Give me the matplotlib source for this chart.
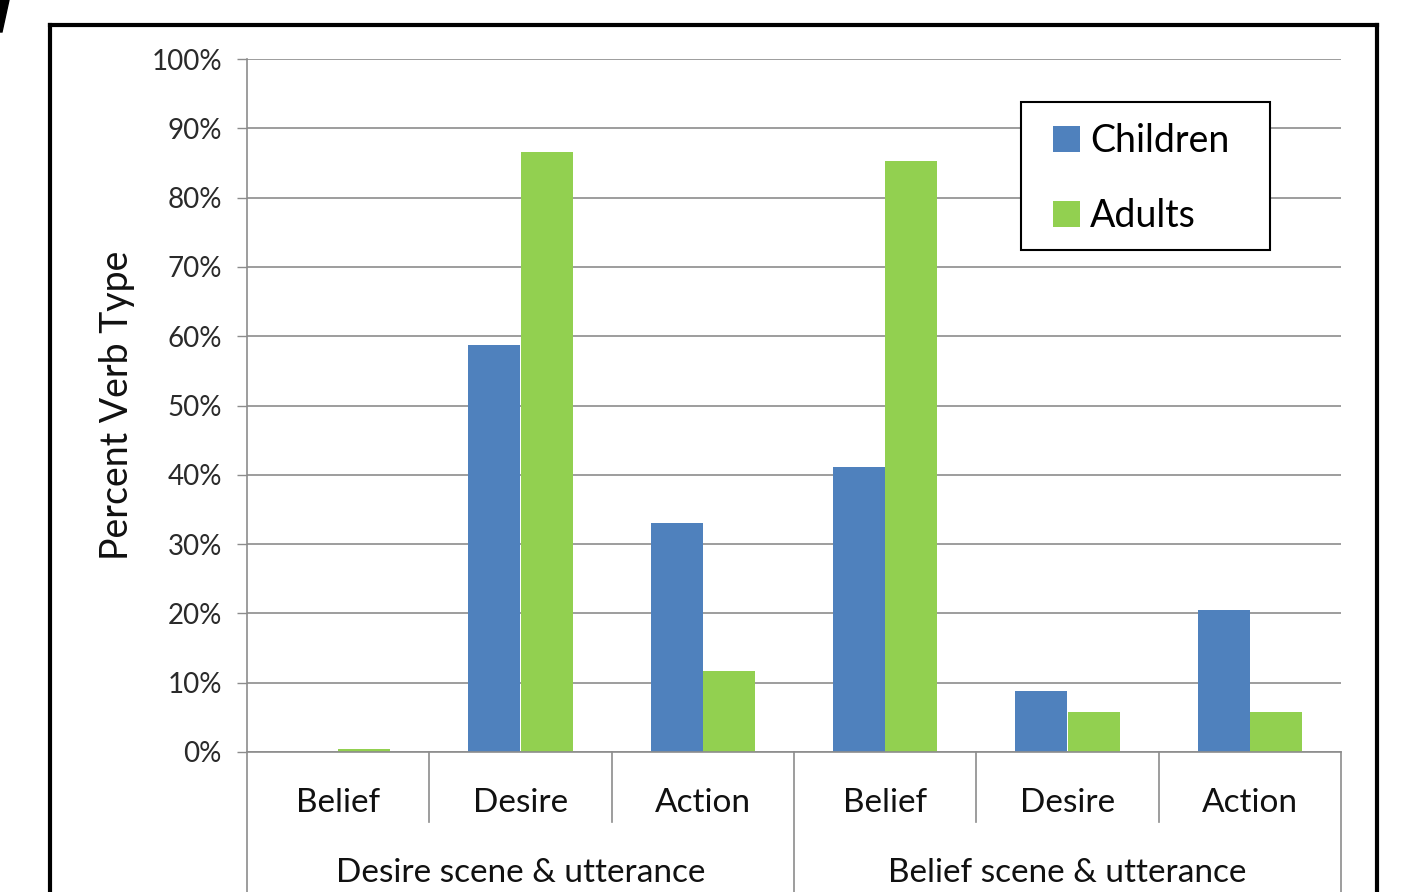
import numpy as np
import matplotlib.pyplot as plt
from matplotlib.lines import Line2D
from matplotlib.patches import Polygon, Rectangle

plt.rcParams['font.family'] = ['Lato', 'DejaVu Sans']

verbs = ['Belief', 'Desire', 'Action', 'Belief', 'Desire', 'Action']
groups = ['Desire scene & utterance', 'Belief scene & utterance']
children = [0.0, 58.7, 33.0, 41.1, 8.8, 20.5]
adults = [0.5, 86.6, 11.7, 85.3, 5.8, 5.8]
yticks = [0, 10, 20, 30, 40, 50, 60, 70, 80, 90, 100]

blue = '#4F81BD'
green = '#92D050'
grid = '#8C8C8C'

W, H = 1411, 892
x0, x1, y0, y1 = 247, 1341, 752, 59
fig = plt.figure(figsize=(W/100, H/100), dpi=100)
ax = fig.add_axes([x0/W, 1-y0/H, (x1-x0)/W, (y0-y1)/H])

def ax_xy(px, py):
    # pixel position -> axes fraction
    return (px - x0)/(x1 - x0), (y0 - py)/(y0 - y1)

x = np.arange(len(verbs))
w = 1/3.5
ax.bar(x - w/2, children, w, color=blue, label='Children', zorder=3)
ax.bar(x + w/2, adults, w, color=green, label='Adults', zorder=3)

ax.set_xlim(-0.5, len(verbs) - 0.5)
ax.set_ylim(0, 100)
ax.set_yticks(yticks)
ax.set_yticklabels([f'{t}%' for t in yticks], fontsize=20, color='#2a2a2a')
ax.tick_params(axis='y', length=7, width=1, color=grid, pad=11)
ax.tick_params(axis='x', length=0, labelbottom=False)
ax.grid(axis='y', color=grid, lw=1.2, zorder=0)
for s in ax.spines.values():
    s.set_visible(False)
ax.set_ylabel('Percent Verb Type', fontsize=27, labelpad=12, color='#111111')

trans = ax.get_xaxis_transform()
# category labels and separators
for i, v in enumerate(verbs):
    ax.text(i, -51/693, v, transform=trans, ha='center', va='center',
            fontsize=24, color='#111111')
for i in range(1, len(verbs)):
    bottom = -140/693 if i % 3 == 0 else -70/693
    ax.plot([i - 0.5, i - 0.5], [0, bottom], transform=trans, color=grid,
            lw=1.2, clip_on=False)
for xe in [-0.5, len(verbs) - 0.5]:
    ax.plot([xe, xe], [0 if xe > 0 else 1, -140/693], transform=trans,
            color=grid, lw=1.2, clip_on=False)
ax.plot([-0.5, len(verbs) - 0.5], [0, 0], transform=trans, color=grid,
        lw=1.2, clip_on=False, zorder=4)
for g, name in enumerate(groups):
    ax.text(g * 3 + 1, -121/693, name, transform=trans, ha='center',
            va='center', fontsize=24, color='#111111')

# legend box drawn separately so its padding matches
lx0, ly0 = ax_xy(1021, 250)
lx1, ly1 = ax_xy(1270, 102)
ax.add_patch(Rectangle((lx0, ly0), lx1 - lx0, ly1 - ly0, transform=ax.transAxes,
                       facecolor='white', edgecolor='black', lw=1.5, zorder=5))
leg = ax.legend(loc='upper left', bbox_to_anchor=ax_xy(1053, 123),
                fontsize=27, frameon=False, handlelength=0.72,
                handleheight=0.72, handletextpad=0.27, labelspacing=1.04,
                borderpad=0, borderaxespad=0)
leg.set_zorder(6)

# outer chart frame
fx0, fx1, fy = 50/W, 1377/W, 1-25/H
for xs, ys in [([fx0, fx0], [0, fy]), ([fx0, fx1], [fy, fy]), ([fx1, fx1], [fy, 0])]:
    fig.add_artist(Line2D(xs, ys, transform=fig.transFigure, color='black', lw=3))
fig.add_artist(Polygon([[0, 1], [9/W, 1], [2/W, 1-32/H], [0, 1-32/H]],
                       closed=True, transform=fig.transFigure, color='black'))

fig.savefig('out.png', dpi=100)
